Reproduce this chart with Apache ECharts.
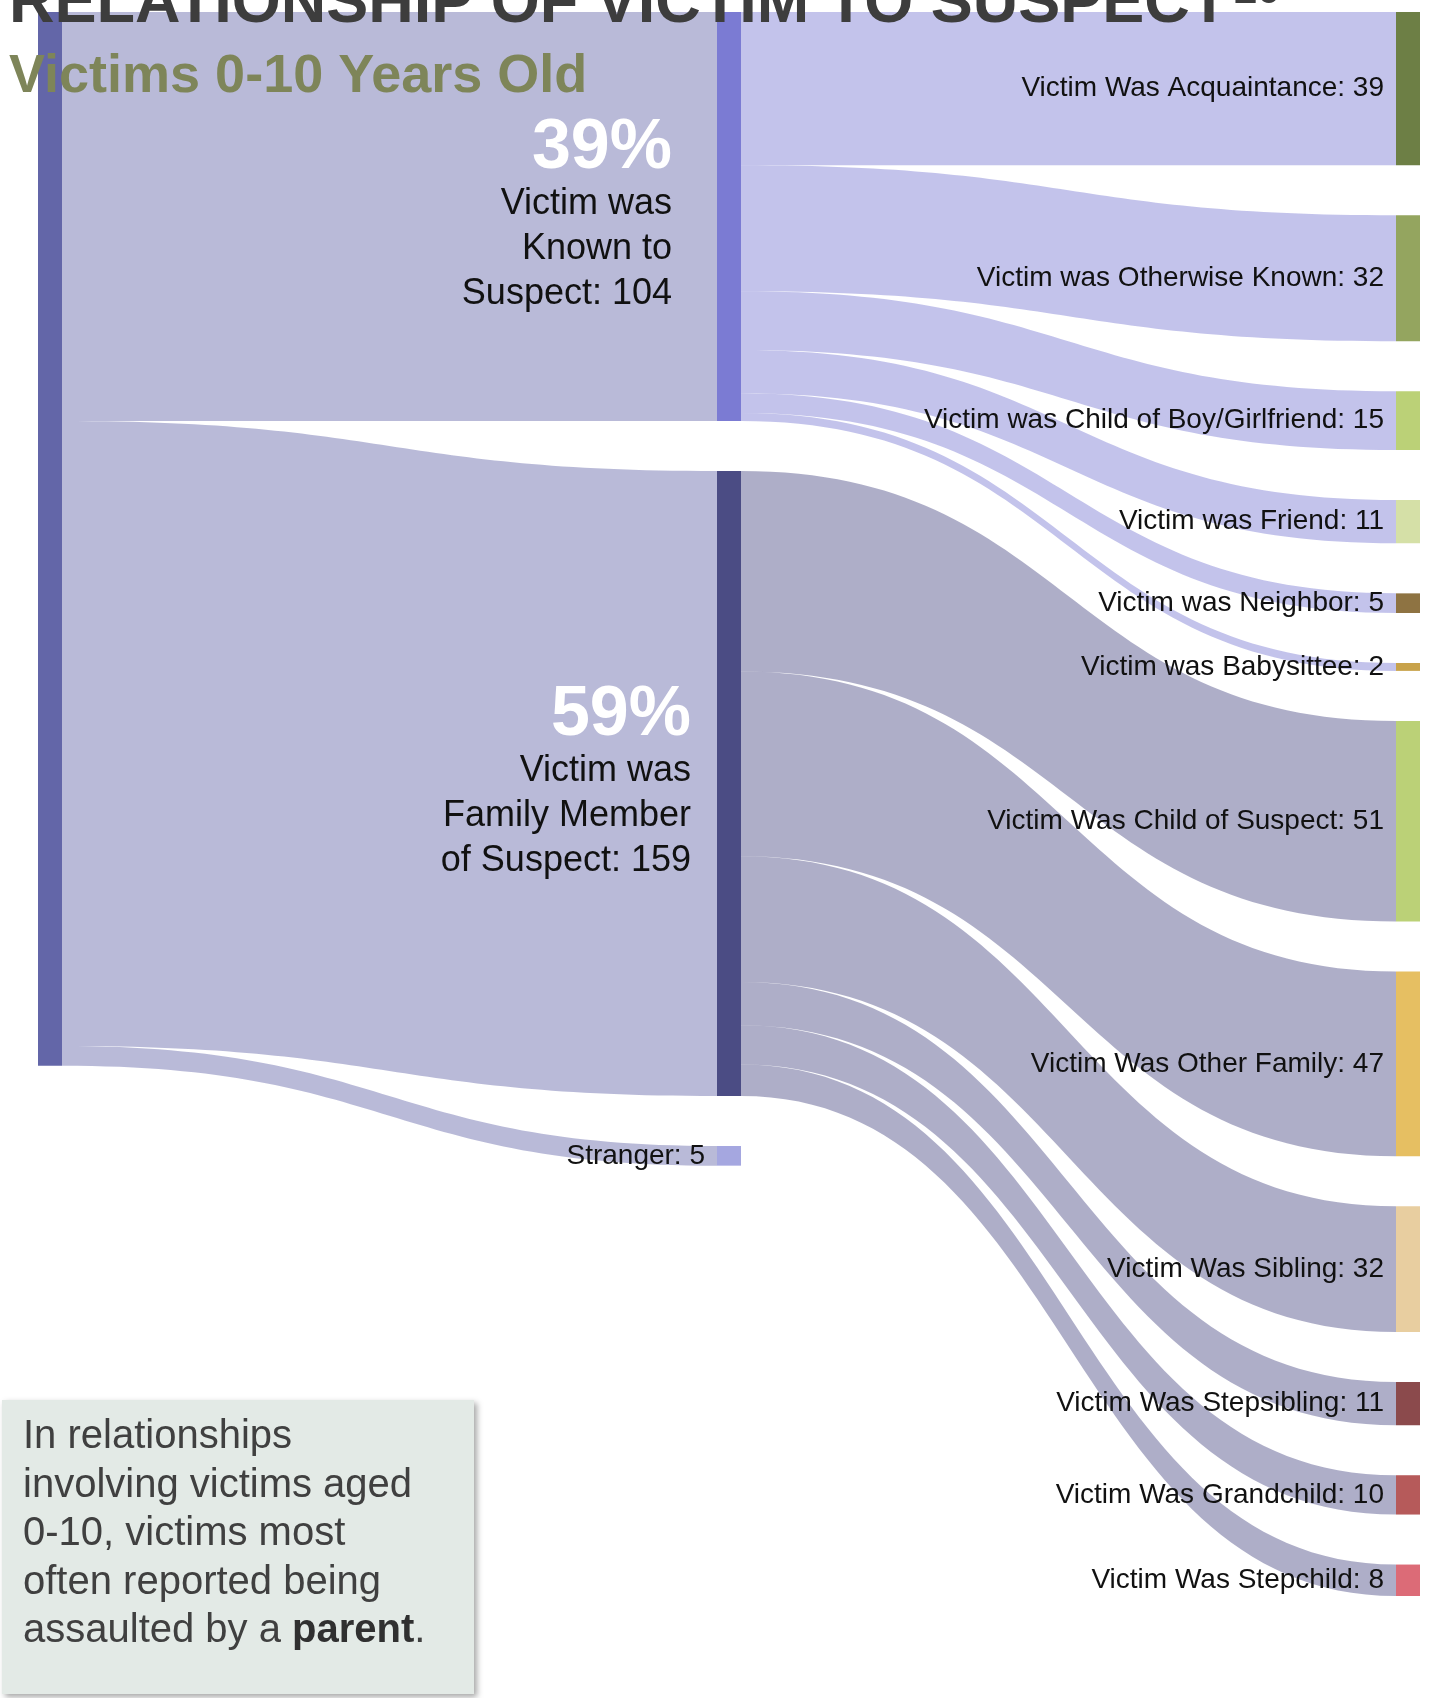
<!DOCTYPE html>
<html>
<head>
<meta charset="utf-8">
<script src="https://cdn.jsdelivr.net/npm/echarts@6/dist/echarts.min.js"></script>
<style>
  html, body { margin: 0; padding: 0; background: #ffffff; }
  #chart { width: 1429px; height: 1698px; }
</style>
</head>
<body>
<div id="chart"></div>
<script>
// ---- data ----
const rootName = 'Victims 0-10 Years Old';

const groupNames = ['Victim was Known to Suspect', 'Victim was Family Member of Suspect', 'Stranger'];
const groupValues = [104, 159, 5];
// how the two big group labels wrap
const groupLines = [
  ['Victim was', 'Known to', 'Suspect'],
  ['Victim was', 'Family Member', 'of Suspect']
];

const knownNames = [
  'Victim Was Acquaintance',
  'Victim was Otherwise Known',
  'Victim was Child of Boy/Girlfriend',
  'Victim was Friend',
  'Victim was Neighbor',
  'Victim was Babysittee'
];
const knownValues = [39, 32, 15, 11, 5, 2];

const familyNames = [
  'Victim Was Child of Suspect',
  'Victim Was Other Family',
  'Victim Was Sibling',
  'Victim Was Stepsibling',
  'Victim Was Grandchild',
  'Victim Was Stepchild'
];
const familyValues = [51, 47, 32, 11, 10, 8];

// ---- colours ----
const rootColor = '#6366a8';
const groupColors = ['#7b7bd3', '#4b4c84', '#a5a7e0'];
const knownColors = ['#6d7f45', '#94a55f', '#bbd177', '#d5e0a7', '#8e7342', '#c8a24a'];
const familyColors = ['#bbd177', '#e6bf62', '#e8cea0', '#8b4a4c', '#b65a5a', '#dc6b77'];

const FONT = "'Liberation Sans', Arial, sans-serif";

// ---- build sankey nodes & links ----
const total = groupValues.reduce((a, b) => a + b, 0);

const leafLabel = {
  show: true,
  position: 'left',
  distance: 12,
  color: '#111111',
  fontFamily: FONT,
  fontSize: 28,
  formatter: p => p.name + ': ' + p.value
};

const nodes = [];
nodes.push({ name: rootName, itemStyle: { color: rootColor }, label: { show: false } });

groupNames.forEach((name, i) => {
  const node = { name: name, itemStyle: { color: groupColors[i] } };
  if (i < 2) {
    const pct = Math.round(groupValues[i] / total * 100);
    const lines = groupLines[i].slice();
    lines[lines.length - 1] += ': ' + groupValues[i];
    node.label = {
      show: true,
      position: 'left',
      distance: i === 0 ? 45 : 26,
      align: 'right',
      fontFamily: FONT,
      formatter: '{pct|' + pct + '%}\n' + lines.map(l => '{txt|' + l + '}').join('\n'),
      rich: {
        pct: { fontFamily: FONT, fontSize: 70, fontWeight: 'bold', color: '#ffffff', lineHeight: 66, align: 'right' },
        txt: { fontFamily: FONT, fontSize: 36, color: '#111111', lineHeight: 45, align: 'right' }
      }
    };
  } else {
    node.label = leafLabel;
  }
  nodes.push(node);
});

knownNames.forEach((name, i) => {
  nodes.push({ name: name, itemStyle: { color: knownColors[i] }, label: leafLabel });
});
familyNames.forEach((name, i) => {
  nodes.push({ name: name, itemStyle: { color: familyColors[i] }, label: leafLabel });
});

const links = [];
groupNames.forEach((name, i) => links.push({ source: rootName, target: name, value: groupValues[i] }));
knownNames.forEach((name, i) => links.push({ source: groupNames[0], target: name, value: knownValues[i] }));
familyNames.forEach((name, i) => links.push({ source: groupNames[1], target: name, value: familyValues[i] }));

// ---- chart ----
const chart = echarts.init(document.getElementById('chart'), null, { renderer: 'canvas' });

const noteLines = [
  '{n|In relationships}',
  '{n|involving victims aged}',
  '{n|0-10, victims most}',
  '{n|often reported being}',
  '{n|assaulted by a }{b|parent}{n|.}'
];

chart.setOption({
  backgroundColor: '#ffffff',
  animation: false,
  series: [{
    type: 'sankey',
    left: 38,
    right: 9,
    top: 12,
    bottom: 102,
    nodeWidth: 24,
    nodeGap: 50,
    nodeAlign: 'left',
    layoutIterations: 0,
    draggable: false,
    emphasis: { disabled: true },
    data: nodes,
    links: links,
    itemStyle: { borderWidth: 0 },
    lineStyle: { color: 'source', opacity: 0.45, curveness: 0.5 },
    label: { fontFamily: FONT }
  }],
  graphic: [
    {
      type: 'text',
      z: 100,
      left: 9,
      top: -27,
      style: {
        text: 'RELATIONSHIP OF VICTIM TO SUSPECT',
        fontFamily: FONT,
        fontWeight: 'bold',
        fontSize: 63,
        fill: '#3d3d3d'
      }
    },
    {
      // footnote marker after the title
      type: 'text',
      z: 100,
      left: 1234,
      top: -30,
      style: {
        text: '20',
        fontFamily: FONT,
        fontWeight: 'bold',
        fontSize: 42,
        fill: '#3d3d3d'
      }
    },
    {
      type: 'text',
      z: 100,
      left: 9,
      top: 50,
      style: {
        text: 'Victims 0-10 Years Old',
        fontFamily: FONT,
        fontWeight: 'bold',
        fontSize: 54,
        fill: '#7e8559'
      }
    },
    {
      type: 'group',
      z: 100,
      left: 2,
      top: 1400,
      children: [
        {
          type: 'rect',
          z: 100,
          shape: { x: 0, y: 0, width: 472, height: 294 },
          style: {
            fill: '#e3eae6',
            shadowBlur: 6,
            shadowOffsetX: 3,
            shadowOffsetY: 3,
            shadowColor: 'rgba(0,0,0,0.35)'
          }
        },
        {
          type: 'text',
          z: 101,
          x: 21,
          y: 13,
          style: {
            text: noteLines.join('\n'),
            rich: {
              n: { fontFamily: FONT, fontSize: 40, fill: '#404040', lineHeight: 48.5 },
              b: { fontFamily: FONT, fontSize: 40, fontWeight: 'bold', fill: '#303030', lineHeight: 48.5 }
            }
          }
        }
      ]
    }
  ]
});
</script>
</body>
</html>
